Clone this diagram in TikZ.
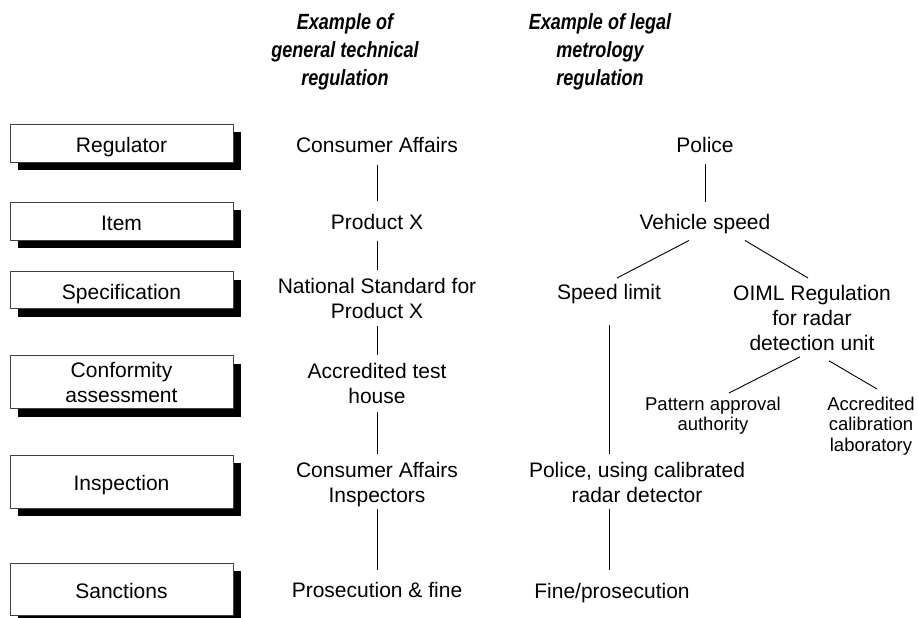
\documentclass[tikz,border=0pt]{standalone}
\usepackage{fontspec}
\setmainfont{Liberation Sans}
\newfontfamily\hdrfont[FakeStretch=0.82]{Liberation Sans}
\usetikzlibrary{calc,shadows}
\begin{document}
\begin{tikzpicture}[x=1pt,y=-1pt,
  lbox/.style={draw=black!75, line width=0.9pt, fill=white, minimum width=223pt,
    inner sep=0pt, align=center, font=\fontsize{21}{25}\selectfont,
    drop shadow={shadow xshift=8pt, shadow yshift=-8pt, fill=black, opacity=1}},
  oneline/.style={text height=18pt, text depth=0pt},
  txt/.style={inner sep=0pt, anchor=north, align=center, font=\fontsize{21}{25}\selectfont},
  small/.style={inner sep=0pt, anchor=north, align=center, font=\fontsize{18.5}{20.5}\selectfont},
  hdr/.style={inner sep=0pt, anchor=north, align=center, font=\hdrfont\bfseries\itshape\fontsize{22}{28}\selectfont},
  conn/.style={draw=black, line width=0.9pt}]
\useasboundingbox (0,0) rectangle (918,618);
% headers
\node[hdr] (h1) at (345,13) {Example of\\general technical\\regulation};
\node[hdr] (h2) at (600,13) {Example of legal\\metrology\\regulation};
% left boxes
\node[lbox, oneline, minimum height=38pt] (b1) at (121.5,143) {Regulator};
\node[lbox, oneline, minimum height=38pt] (b2) at (121.5,221) {Item};
\node[lbox, oneline, minimum height=37pt] (b3) at (121.5,290) {Specification};
\node[lbox, minimum height=53pt] (b4) at (121.5,382) {Conformity\\assessment};
\node[lbox, oneline, minimum height=53pt] (b5) at (121.5,481.5) {Inspection};
\node[lbox, oneline, minimum height=52pt] (b6) at (121.5,589) {Sanctions};
% column 1
\node[txt] (ca) at (377,137.5) {Consumer Affairs};
\node[txt] (px) at (377,214.5) {Product X};
\node[txt] (ns) at (377,278.5) {National Standard for\\Product X};
\node[txt] (at) at (377,363.5) {Accredited test\\house};
\node[txt] (cai) at (377,462.5) {Consumer Affairs\\Inspectors};
\node[txt] (pf) at (377,582.5) {Prosecution \& fine};
% column 2
\node[txt] (pol) at (705,137.5) {Police};
\node[txt] (vs) at (705,214.5) {Vehicle speed};
\node[txt] (sl) at (609,284.5) {Speed limit};
\node[txt] (oiml) at (812,285.5) {OIML Regulation\\for radar\\detection unit};
\node[small] (pa) at (713,396.4) {Pattern approval\\authority};
\node[small] (ac) at (871,396.4) {Accredited\\calibration\\laboratory};
\node[txt] (pu) at (637,462.5) {Police, using calibrated\\radar detector};
\node[txt] (fp) at (612,583.5) {Fine/prosecution};
% connectors column 1
\draw[conn] ($(ca.south)+(0,11.5)$) -- ($(px.north)+(0,-13.5)$);
\draw[conn] ($(px.south)+(0,10.5)$) -- ($(ns.north)+(0,-8.5)$);
\draw[conn] ($(ns.south)+(0,6.5)$) -- ($(at.north)+(0,-8.5)$);
\draw[conn] ($(at.south)+(0,7.5)$) -- ($(cai.north)+(0,-8.5)$);
\draw[conn] ($(cai.south)+(0,2)$) -- ($(pf.north)+(0,-12.5)$);
% connectors column 2
\draw[conn] ($(pol.south)+(0,10.5)$) -- ($(vs.north)+(0,-12.5)$);
\draw[conn] ($(vs.south)+(-16,6)$) -- ($(sl.north)+(8,-6.5)$);
\draw[conn] ($(vs.south)+(40,6)$) -- ($(oiml.north)+(-4,-7.5)$);
\draw[conn] ($(sl.south)+(0,21)$) -- ($(sl.south |- pu.north)+(0,-8.5)$);
\draw[conn] ($(sl.south |- pu.south)+(0,5.5)$) -- ($(sl.south |- fp.north)+(0,-13.5)$);
\draw[conn] ($(oiml.south)+(-12,5.5)$) -- ($(pa.north)+(16,-3.4)$);
\draw[conn] ($(oiml.south)+(17,9.5)$) -- ($(ac.north)+(6,-7.4)$);
\end{tikzpicture}
\end{document}
